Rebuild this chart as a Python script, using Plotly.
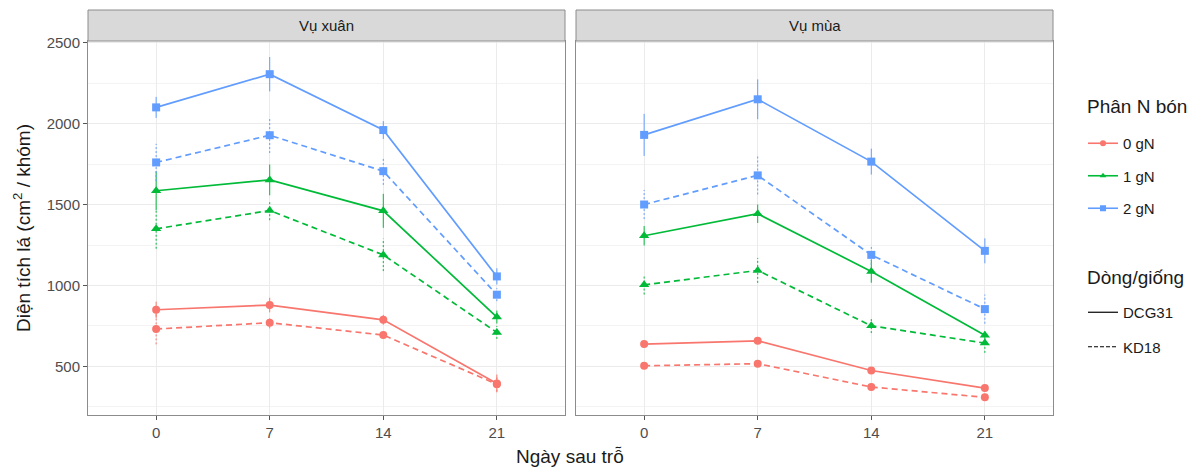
import plotly.graph_objects as go

days = ["0", "7", "14", "21"]
seasons = ["Vụ xuân", "Vụ mùa"]
n_levels = ["0 gN", "1 gN", "2 gN"]
varieties = ["DCG31", "KD18"]

# Vụ xuân
xuan_dcg31_0 = [850, 879, 788, 395]
xuan_dcg31_1 = [1585, 1652, 1461, 805]
xuan_dcg31_2 = [2100, 2305, 1960, 1056]
xuan_kd18_0 = [731, 770, 694, 390]
xuan_kd18_1 = [1350, 1463, 1189, 710]
xuan_kd18_2 = [1760, 1928, 1706, 943]
xuan_dcg31_0_err = [50, 45, 30, 55]
xuan_dcg31_1_err = [120, 95, 105, 40]
xuan_dcg31_2_err = [65, 106, 55, 50]
xuan_kd18_0_err = [95, 35, 20, 45]
xuan_kd18_1_err = [123, 60, 100, 40]
xuan_kd18_2_err = [115, 110, 85, 40]

# Vụ mùa
mua_dcg31_0 = [638, 658, 475, 366]
mua_dcg31_1 = [1307, 1443, 1087, 692]
mua_dcg31_2 = [1930, 2150, 1765, 1214]
mua_kd18_0 = [504, 517, 373, 309]
mua_kd18_1 = [1004, 1093, 751, 644]
mua_kd18_2 = [1500, 1680, 1189, 854]
mua_dcg31_0_err = [20, 20, 15, 15]
mua_dcg31_1_err = [60, 57, 70, 25]
mua_dcg31_2_err = [130, 123, 80, 77]
mua_kd18_0_err = [15, 15, 15, 10]
mua_kd18_1_err = [60, 77, 45, 60]
mua_kd18_2_err = [90, 118, 62, 90]

data = {
    ("Vụ xuân", "DCG31"): [(xuan_dcg31_0, xuan_dcg31_0_err), (xuan_dcg31_1, xuan_dcg31_1_err), (xuan_dcg31_2, xuan_dcg31_2_err)],
    ("Vụ xuân", "KD18"): [(xuan_kd18_0, xuan_kd18_0_err), (xuan_kd18_1, xuan_kd18_1_err), (xuan_kd18_2, xuan_kd18_2_err)],
    ("Vụ mùa", "DCG31"): [(mua_dcg31_0, mua_dcg31_0_err), (mua_dcg31_1, mua_dcg31_1_err), (mua_dcg31_2, mua_dcg31_2_err)],
    ("Vụ mùa", "KD18"): [(mua_kd18_0, mua_kd18_0_err), (mua_kd18_1, mua_kd18_1_err), (mua_kd18_2, mua_kd18_2_err)],
}

colors = ["#F8766D", "#00BA38", "#619CFF"]
symbols = ["circle", "triangle-up", "square"]
msizes = [8, 9, 8]
line_dash = {"DCG31": "solid", "KD18": "6px,4px"}
err_dash = {"DCG31": "solid", "KD18": "2px,2px"}

FONT = "Liberation Sans, Arial, sans-serif"

fig = go.Figure()

for si, season in enumerate(seasons):
    xa = "x" if si == 0 else "x2"
    ya = "y" if si == 0 else "y2"
    for var in varieties:
        for ni in range(3):
            vals, errs = data[(season, var)][ni]
            ex, ey = [], []
            for d, v, e in zip(days, vals, errs):
                ex += [d, d, None]
                ey += [v - e, v + e, None]
            fig.add_trace(go.Scatter(
                x=ex, y=ey, mode="lines", xaxis=xa, yaxis=ya,
                line=dict(color=colors[ni], width=1, dash=err_dash[var]),
                showlegend=False, hoverinfo="skip", connectgaps=False))
    for var in varieties:
        for ni in range(3):
            vals, errs = data[(season, var)][ni]
            fig.add_trace(go.Scatter(
                x=days, y=vals, mode="lines+markers", xaxis=xa, yaxis=ya,
                line=dict(color=colors[ni], width=1.7, dash=line_dash[var]),
                marker=dict(symbol=symbols[ni], size=msizes[ni], color=colors[ni]),
                showlegend=False, name=f"{n_levels[ni]} {var}"))

# legend entries
for ni, lab in enumerate(n_levels):
    fig.add_trace(go.Scatter(
        x=[None], y=[None], mode="lines+markers", name=lab,
        line=dict(color=colors[ni], width=1.6),
        marker=dict(symbol=symbols[ni], size=6, color=colors[ni]),
        legend="legend", legendgroup=lab, showlegend=True))
for var in varieties:
    fig.add_trace(go.Scatter(
        x=[None], y=[None], mode="lines", name=var,
        line=dict(color="black", width=1.2, dash="solid" if var == "DCG31" else "4px,2px"),
        legend="legend2", legendgroup=var, showlegend=True))

# page body has an 8px margin: figure coordinates = page coordinates - 8
W, H = 1195, 461
L, R, T, B = 80, 150, 2, 54
pw = W - L - R
ph = H - T - B


def px(xf):
    return (xf - L) / pw


def py(yf):
    return (H - B - yf) / ph


ytop = py(33)
x1_end = px(557)
x2_start = px(568)

axis_common = dict(
    type="category", range=[-0.6, 3.6], showgrid=True, gridcolor="#EBEBEB", gridwidth=1,
    showline=True, mirror=True, linecolor="#8C8C8C", linewidth=1,
    ticks="outside", ticklen=4, tickcolor="#555555",
    tickfont=dict(family=FONT, size=15, color="#4D4D4D"), zeroline=False,
    categoryorder="array", categoryarray=days, automargin=False,
)
yaxis_common = dict(
    range=[200, 2510], tickvals=[500, 1000, 1500, 2000, 2500],
    showgrid=True, gridcolor="#EBEBEB", gridwidth=1,
    minor=dict(tickvals=[250, 750, 1250, 1750, 2250], showgrid=True, gridcolor="#F3F3F3", gridwidth=0.6, ticks=""),
    showline=True, mirror=True, linecolor="#8C8C8C", linewidth=1,
    tickcolor="#555555", ticklen=4,
    tickfont=dict(family=FONT, size=15, color="#4D4D4D"), zeroline=False, automargin=False,
)

fig.update_layout(
    width=W, height=H,
    margin=dict(l=L, r=R, t=T, b=B, autoexpand=False),
    paper_bgcolor="white", plot_bgcolor="white",
    font=dict(family=FONT, color="#1A1A1A"),
    xaxis=dict(domain=[0, x1_end], anchor="y", **axis_common),
    xaxis2=dict(domain=[x2_start, 1], anchor="y2", **axis_common),
    yaxis=dict(domain=[0, ytop], anchor="x", ticks="outside", **yaxis_common),
    yaxis2=dict(domain=[0, ytop], anchor="x2", showticklabels=False, ticks="", **yaxis_common),
    legend=dict(
        x=px(1075), xanchor="left", y=py(119), yanchor="top",
        font=dict(family=FONT, size=15, color="#1A1A1A"),
        tracegroupgap=10, bgcolor="rgba(0,0,0,0)", itemwidth=30,
    ),
    legend2=dict(
        x=px(1075), xanchor="left", y=py(288), yanchor="top",
        font=dict(family=FONT, size=15, color="#1A1A1A"),
        tracegroupgap=12, bgcolor="rgba(0,0,0,0)", itemwidth=30,
    ),
    showlegend=True,
)

# strips
for (x0, x1), lab in zip([(0, x1_end), (x2_start, 1)], seasons):
    fig.add_shape(type="rect", xref="paper", yref="paper", x0=x0, x1=x1, y0=ytop, y1=1,
                  fillcolor="#D9D9D9", line=dict(color="#8C8C8C", width=1), layer="above")
    fig.add_annotation(x=(x0 + x1) / 2, y=(ytop + 1) / 2, xref="paper", yref="paper",
                       text=lab, showarrow=False, xanchor="center", yanchor="middle",
                       font=dict(family=FONT, size=15, color="#1A1A1A"))

# axis titles
fig.add_annotation(x=px(562), y=py(448), xref="paper", yref="paper", text="Ngày sau trỗ",
                   showarrow=False, font=dict(family=FONT, size=19, color="#1A1A1A"),
                   xanchor="center", yanchor="middle")
fig.add_annotation(x=px(14), y=ytop / 2, xref="paper", yref="paper",
                   text="Diện tích lá (cm<sup>2</sup> / khóm)", textangle=-90,
                   showarrow=False, font=dict(family=FONT, size=19, color="#1A1A1A"),
                   xanchor="center", yanchor="middle")

# legend titles
fig.add_annotation(x=px(1077), y=py(99), xref="paper", yref="paper", text="Phân N bón",
                   showarrow=False, font=dict(family=FONT, size=19, color="#1A1A1A"),
                   xanchor="left", yanchor="middle")
fig.add_annotation(x=px(1077), y=py(269), xref="paper", yref="paper", text="Dòng/giống",
                   showarrow=False, font=dict(family=FONT, size=19, color="#1A1A1A"),
                   xanchor="left", yanchor="middle")

fig.write_html("out.html")
